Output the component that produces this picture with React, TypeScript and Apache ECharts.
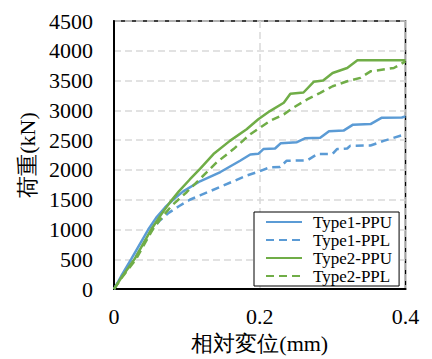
import React, { useEffect, useRef } from "react";
import * as echarts from "echarts";

const seriesNames = ["Type1-PPU", "Type1-PPL", "Type2-PPU", "Type2-PPL"];

const type1PPU: [number, number][] = [
  [0, 0], [0.01, 220], [0.024, 510], [0.047, 1000], [0.058, 1200], [0.07, 1370], [0.081, 1500],
  [0.095, 1640], [0.118, 1810], [0.146, 1965], [0.173, 2155], [0.187, 2260], [0.198, 2270],
  [0.205, 2350], [0.221, 2360], [0.229, 2450], [0.251, 2465], [0.262, 2530],
  [0.283, 2540], [0.295, 2650], [0.315, 2660], [0.328, 2760], [0.352, 2770],
  [0.367, 2875], [0.395, 2880], [0.4, 2900],
];

const type1PPL: [number, number][] = [
  [0, 0], [0.01, 200], [0.028, 500], [0.05, 960], [0.062, 1140], [0.075, 1280], [0.089, 1390],
  [0.104, 1500], [0.118, 1572], [0.15, 1738], [0.182, 1905], [0.196, 1961], [0.214, 2045],
  [0.228, 2050], [0.237, 2155], [0.265, 2160], [0.279, 2267], [0.3, 2270],
  [0.306, 2350], [0.32, 2360], [0.324, 2405], [0.352, 2410], [0.37, 2488], [0.4, 2600],
];

const type2PPU: [number, number][] = [
  [0, 0], [0.01, 190], [0.028, 500], [0.051, 1000], [0.064, 1240], [0.077, 1460], [0.089, 1640],
  [0.104, 1840], [0.118, 2017], [0.1365, 2267], [0.159, 2488], [0.182, 2683], [0.198, 2850],
  [0.214, 2988], [0.233, 3128], [0.242, 3280], [0.26, 3300], [0.274, 3480], [0.287, 3500],
  [0.3, 3628], [0.32, 3711], [0.334, 3840], [0.4, 3840],
];

const type2PPL: [number, number][] = [
  [0, 0], [0.01, 180], [0.03, 500], [0.053, 1000], [0.066, 1210], [0.08, 1410], [0.1, 1630],
  [0.118, 1850], [0.141, 2128], [0.164, 2350], [0.187, 2600], [0.214, 2822], [0.233, 2933],
  [0.246, 3044], [0.265, 3183], [0.283, 3295], [0.3, 3405], [0.32, 3488],
  [0.338, 3545], [0.352, 3655], [0.384, 3711], [0.4, 3822],
];

const BLUE = "#5B9BD5";
const GREEN = "#70AD47";
const FONT = "Liberation Serif";

export default function App() {
  const ref = useRef<HTMLDivElement>(null);
  useEffect(() => {
    if (!ref.current) return;
    const chart = echarts.init(ref.current, undefined, { renderer: "svg" });
    const mk = (name: string, data: [number, number][], color: string, dashed: boolean) => ({
      name,
      type: "line",
      data,
      symbol: "none",
      showSymbol: false,
      lineStyle: { color, width: 2.5, type: dashed ? [8, 5] : "solid" },
      itemStyle: { color },
    });
    chart.setOption({
      animation: false,
      textStyle: { fontFamily: FONT },
      grid: {
        left: 114, top: 21, right: 26.5, bottom: 68,
        show: true, borderColor: "#000", borderWidth: 1.5, backgroundColor: "transparent",
      },
      legend: {
        data: seriesNames,
        orient: "vertical",
        left: 254,
        top: 212,
        width: 149,
        backgroundColor: "#fff",
        borderColor: "#000",
        borderWidth: 1,
        borderRadius: 0,
        padding: [1, 7, 1, 11],
        itemGap: 0,
        itemWidth: 36,
        itemHeight: 14,
        itemStyle: { opacity: 0 },
        textStyle: { fontFamily: FONT, fontSize: 17, color: "#000", lineHeight: 18, padding: [0, 0, 0, 6] },
      },
      xAxis: {
        type: "value",
        min: 0, max: 0.4, interval: 0.2,
        name: "相対変位(mm)",
        nameLocation: "middle",
        nameGap: 40,
        nameTextStyle: { fontFamily: FONT, fontSize: 22, color: "#000" },
        axisLine: { show: true, lineStyle: { color: "#000", width: 2 } },
        axisTick: { show: false },
        axisLabel: { fontFamily: FONT, fontSize: 22, color: "#000", margin: 16,
          formatter: (v: number) => (v === 0 ? "0" : String(+v.toFixed(1))) },
        splitLine: { show: true, lineStyle: { color: "#d9d9d9", width: 1.5, type: [7, 4] } },
      },
      yAxis: {
        type: "value",
        min: 0, max: 4500, interval: 500,
        name: "荷重(kN)",
        nameLocation: "middle",
        nameGap: 66,
        nameRotate: 90,
        nameTextStyle: { fontFamily: FONT, fontSize: 22, color: "#000" },
        axisLine: { show: true, lineStyle: { color: "#000", width: 2 } },
        axisTick: { show: false },
        axisLabel: { fontFamily: FONT, fontSize: 22, color: "#000", margin: 21,
          formatter: (v: number) => String(v) },
        splitLine: { show: true, lineStyle: { color: "#d9d9d9", width: 1.5, type: [7, 4] } },
      },
      series: [
        mk(seriesNames[0], type1PPU, BLUE, false),
        mk(seriesNames[1], type1PPL, BLUE, true),
        mk(seriesNames[2], type2PPU, GREEN, false),
        mk(seriesNames[3], type2PPL, GREEN, true),
      ],
    });
    return () => chart.dispose();
  }, []);
  return <div ref={ref} style={{ width: 432, height: 359, position: "absolute", left: 0, top: 0 }} />;
}
